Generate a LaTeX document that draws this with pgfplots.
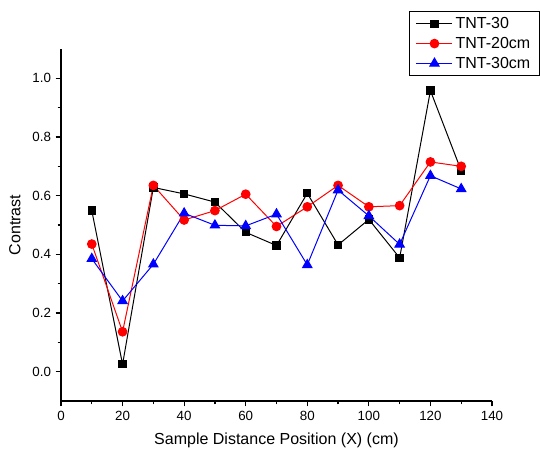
\documentclass[border=0pt]{standalone}
\usepackage{fontspec}
\setmainfont{Liberation Sans}
\usepackage{pgfplots}
\pgfplotsset{compat=1.18}

\pgfplotstableread{
x    a      b      c
10   0.549  0.435  0.385
20   0.025  0.136  0.241
30   0.628  0.635  0.366
40   0.606  0.517  0.540
50   0.578  0.549  0.499
60   0.475  0.605  0.497
70   0.430  0.495  0.537
80   0.608  0.562  0.364
90   0.432  0.635  0.619
100  0.519  0.562  0.531
110  0.388  0.566  0.434
120  0.958  0.715  0.668
130  0.685  0.700  0.623
}\contrast

\begin{document}
\begin{tikzpicture}
\useasboundingbox (-45.75pt,-38.25pt) rectangle (359.25pt,300.75pt);
\begin{axis}[
  scale only axis, width=323.25pt, height=264pt,
  xmin=0, xmax=140, ymin=-0.1, ymax=1.1,
  xtick={0,20,40,60,80,100,120,140},
  ytick={0,0.2,0.4,0.6,0.8,1.0},
  minor x tick num=1, minor y tick num=1,
  axis x line*=bottom, axis y line*=left,
  axis line style={-, line width=1pt, black},
  tick style={line width=0.9pt, black},
  tick align=outside, major tick length=4pt, minor tick length=2.5pt,
  /pgf/number format/assume math mode=true,
  ticklabel style={font=\fontsize{10}{12}\selectfont},
  yticklabel style={/pgf/number format/fixed, /pgf/number format/fixed zerofill, /pgf/number format/precision=1},
  xlabel={Sample Distance Position (X) (cm)},
  ylabel={Contrast},
  label style={font=\fontsize{12}{14}\selectfont},
  xlabel style={at={(axis description cs:0.5,-0.111)}, anchor=center},
  ylabel style={at={(axis description cs:-0.107,0.5)}, anchor=center},
  legend style={at={(axis description cs:0.807,1.107)}, anchor=north west,
    draw=black, line width=0.75pt, font=\fontsize{12}{13}\selectfont,
    inner xsep=5pt, inner ysep=2pt, row sep=1pt,
    /tikz/every even column/.append style={column sep=2pt}},
  legend cell align=left,
  legend image code/.code={\draw[mark repeat=2,mark phase=2] plot coordinates {(0pt,0pt)(13.5pt,0pt)(27pt,0pt)};},
]
\addplot[black, line width=0.75pt, mark=square*, mark size=2.75pt, mark options={solid}] table[x=x,y=a] {\contrast};
\addlegendentry{TNT-30}
\addplot[red, line width=0.75pt, mark=*, mark size=3.25pt, mark options={solid}] table[x=x,y=b] {\contrast};
\addlegendentry{TNT-20cm}
\addplot[blue, line width=0.75pt, mark=triangle*, mark size=4pt, mark options={solid}] table[x=x,y=c] {\contrast};
\addlegendentry{TNT-30cm}
\end{axis}
\end{tikzpicture}
\end{document}
